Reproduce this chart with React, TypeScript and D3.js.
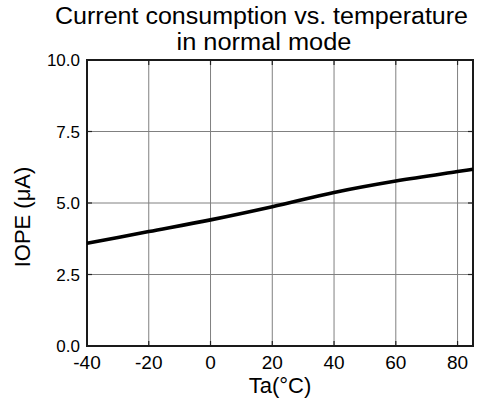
import React from "react";
import * as d3 from "d3";

const temps = [-40, -20, 0, 20, 40, 60, 80, 85];
const iope = [3.59, 4.0, 4.41, 4.87, 5.37, 5.77, 6.1, 6.18];
const xTicks = [-40, -20, 0, 20, 40, 60, 80];
const yTicks = [0, 2.5, 5, 7.5, 10];
const titleLines = ["Current consumption vs. temperature", "in normal mode"];
const xLabel = "Ta(°C)";
const yLabel = "IOPE (μA)";

const W = 480, H = 407;
const L = 87, R = 473, T = 60, B = 346;
const font = "'Liberation Sans', Arial, Helvetica, sans-serif";

export default function App() {
  const x = d3.scaleLinear().domain([-40, 85]).range([L, R]);
  const y = d3.scaleLinear().domain([0, 10]).range([B, T]);
  const pts = temps.map((t, i) => [t, iope[i]] as [number, number]);
  const line = d3.line<[number, number]>().x(d => x(d[0])).y(d => y(d[1])).curve(d3.curveMonotoneX);

  return (
    <svg width={W} height={H} style={{ position: "absolute", left: 0, top: 0, background: "#fff" }}>
      <rect x={0} y={0} width={W} height={H} fill="#fff" />
      {/* grid */}
      {xTicks.slice(1).map(t => (
        <line key={"gx" + t} x1={x(t)} x2={x(t)} y1={T} y2={B} stroke="#808080" strokeWidth={1} />
      ))}
      {yTicks.slice(1, -1).map(t => (
        <line key={"gy" + t} x1={L} x2={R} y1={y(t)} y2={y(t)} stroke="#808080" strokeWidth={1} />
      ))}
      {/* inner ticks */}
      {xTicks.slice(1).map(t => (
        <g key={"tx" + t}>
          <line x1={x(t)} x2={x(t)} y1={T} y2={T + 5} stroke="#222" strokeWidth={1.2} />
          <line x1={x(t)} x2={x(t)} y1={B} y2={B - 5} stroke="#222" strokeWidth={1.2} />
        </g>
      ))}
      {yTicks.slice(1, -1).map(t => (
        <g key={"ty" + t}>
          <line x1={L} x2={L + 5} y1={y(t)} y2={y(t)} stroke="#222" strokeWidth={1.2} />
          <line x1={R} x2={R - 5} y1={y(t)} y2={y(t)} stroke="#222" strokeWidth={1.2} />
        </g>
      ))}
      {/* frame */}
      <rect x={L} y={T} width={R - L} height={B - T} fill="none" stroke="#1a1a1a" strokeWidth={2} />
      {/* data line */}
      <path d={line(pts) || ""} fill="none" stroke="#000" strokeWidth={3.6} strokeLinejoin="round" />
      {/* y tick labels */}
      {yTicks.map(t => (
        <text key={"ly" + t} x={L - 7} y={y(t) + 6} textAnchor="end" fontFamily={font} fontSize={17} fill="#000">
          {t.toFixed(1)}
        </text>
      ))}
      {/* x tick labels */}
      {xTicks.map(t => (
        <text key={"lx" + t} x={x(t)} y={369} textAnchor="middle" fontFamily={font} fontSize={19} fill="#000">
          {t}
        </text>
      ))}
      {/* axis titles */}
      <text x={(L + R) / 2} y={393} textAnchor="middle" fontFamily={font} fontSize={22} fill="#000">
        {xLabel}
      </text>
      <text transform={`translate(30,217) rotate(-90)`} textAnchor="middle" fontFamily={font} fontSize={22} fill="#000">
        {yLabel}
      </text>
      {/* title */}
      <text x={261.5} y={24} textAnchor="middle" fontFamily={font} fontSize={23} fill="#000" textLength={413} lengthAdjust="spacingAndGlyphs">
        {titleLines[0]}
      </text>
      <text x={264} y={50} textAnchor="middle" fontFamily={font} fontSize={23} fill="#000" textLength={175} lengthAdjust="spacingAndGlyphs">
        {titleLines[1]}
      </text>
    </svg>
  );
}
